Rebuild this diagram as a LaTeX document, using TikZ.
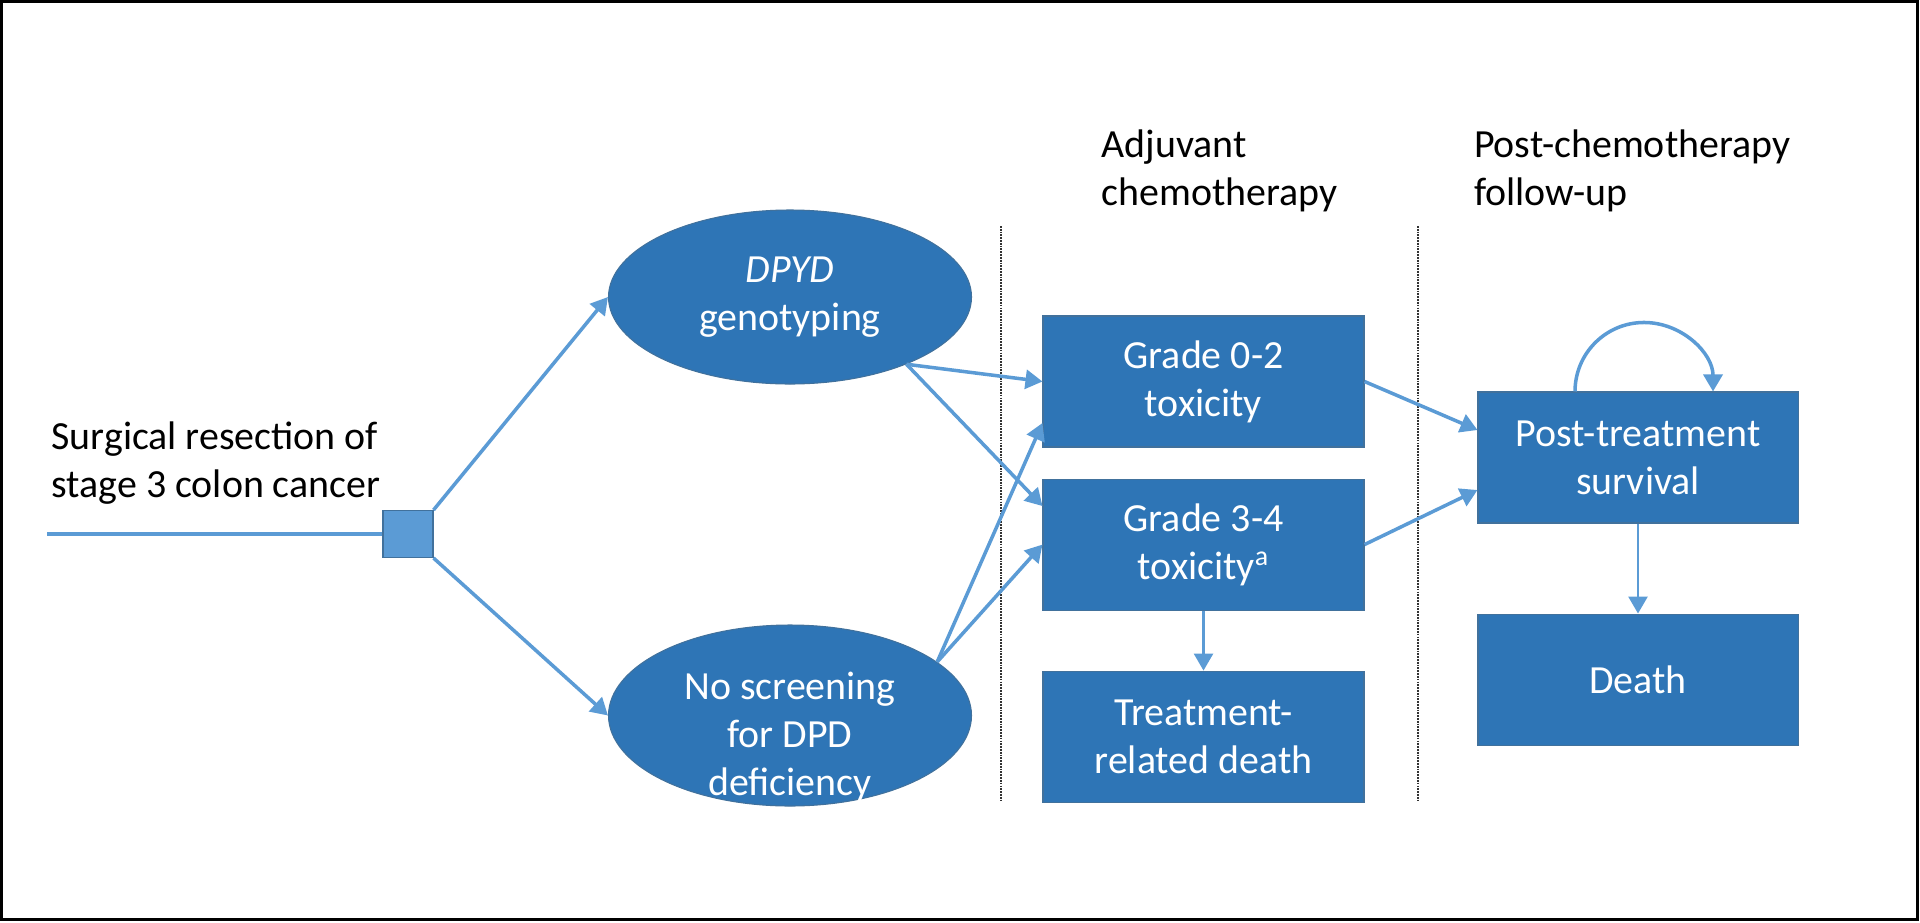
\documentclass[tikz,border=0pt]{standalone}
\usepackage{fontspec}
\setmainfont{Carlito}
\usetikzlibrary{shapes, arrows.meta, positioning}
\definecolor{boxblue}{HTML}{2E75B6}
\definecolor{edgeblue}{HTML}{41719C}
\definecolor{lineblue}{HTML}{5B9BD5}

\begin{document}
\begin{tikzpicture}[thick, >={Triangle[length=0.34cm, width=0.38cm]},
  state/.style={draw=edgeblue, line width=0.6pt, rectangle, fill=boxblue, text=white, align=center, minimum width=6.42cm, minimum height=2.62cm},
  arm/.style={draw=edgeblue, line width=0.6pt, ellipse, fill=boxblue, text=white, align=center, minimum width=7.26cm, inner sep=0pt},
  flow/.style={->, draw=lineblue, line width=2pt},
  phase/.style={dash pattern=on 1pt off 0.6pt, black!80, line width=0.7pt},
  every node/.style={font=\fontsize{22.7}{27.2}\selectfont}]
  \useasboundingbox (0,0) rectangle (38.4,-18.44);
  \draw[line width=0.06cm] (0.03,-0.03) rectangle (38.35,-18.39);

  % Headings
  \node[align=left, anchor=west] (hadj) at (21.9,-3.42) {Adjuvant\\chemotherapy};
  \node[align=left, anchor=west] (hpost) at (29.35,-3.42) {Post-chemotherapy\\follow-up};
  \draw[phase] (20.02,-4.52) -- (20.02,-16.04);
  \draw[phase] (28.36,-4.52) -- (28.36,-16.04);

  % Decision
  \node[align=left, anchor=west] (surgery) at (0.9,-9.26) {Surgical resection of\\stage 3 colon cancer};
  \coordinate (start) at (0.94,-10.68);
  \node[draw=edgeblue, line width=0.6pt, fill=lineblue, minimum width=1cm, minimum height=0.94cm, inner sep=0pt] (decision) at (8.16,-10.68) {};
  \node[arm, minimum height=3.48cm] (dpyd) at (15.8,-5.94) {\textit{DPYD}\\genotyping};
  \node[arm, minimum height=3.62cm, label={[text=white, align=center, yshift=-0.43cm]center:{No screening\\for DPD\\deficiency}}] (noscr) at (15.8,-14.31) {};

  % States
  \node[state] (low) at (24.07,-7.63) {Grade 0-2\\toxicity};
  \node[state, below=0.62cm of low] (high) {Grade 3-4\\toxicity\textsuperscript{a}};
  \node[state, below=1.2cm of high] (trd) {Treatment-\\related death};
  \node[state, minimum width=6.4cm] (surv) at (32.76,-9.15) {Post-treatment\\survival};
  \node[state, minimum width=6.4cm, below=1.8cm of surv] (death) {Death};

  % Connections
  \draw[draw=lineblue, line width=2pt] (start) -- (decision);
  \draw[flow] (decision.north east) -- (dpyd.west);
  \draw[flow] (decision.south east) -- (noscr.west);
  \draw[flow] (dpyd.-30) -- (low.west);
  \draw[flow] (dpyd.-30) -- ([yshift=0.77cm]high.west);
  \draw[flow] (noscr.20) -- ([yshift=-0.83cm]low.west);
  \draw[flow] (noscr.20) -- (high.west);
  \draw[flow] (low.east) -- ([yshift=0.55cm]surv.west);
  \draw[flow] (high.east) -- ([yshift=-0.65cm]surv.west);
  \draw[flow, line width=1.5pt] (high) -- (trd);
  \draw[flow, line width=1.5pt] (surv) -- (death);
  \draw[flow] ([xshift=-1.26cm]surv.north) arc[start angle=180, end angle=0, radius=1.38cm];
\end{tikzpicture}
\end{document}
